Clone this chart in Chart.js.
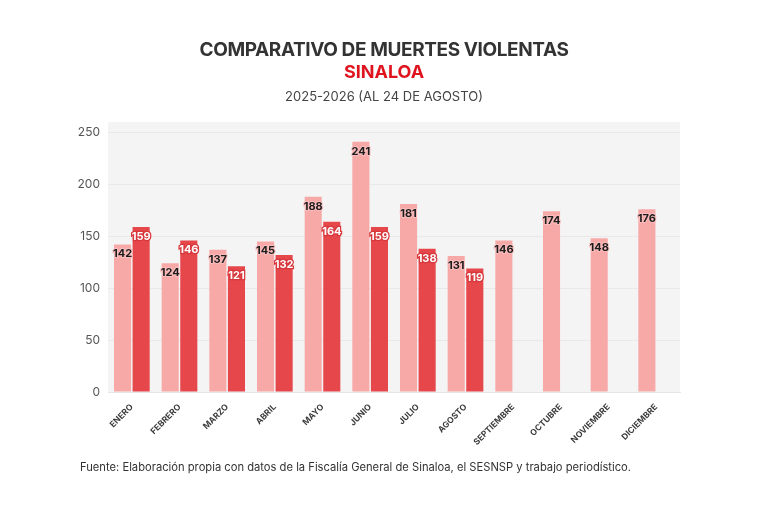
<!DOCTYPE html>
<html lang="es">
<head>
    <meta charset="UTF-8">
    <title>Comparativo de muertes violentas Sinaloa</title>
    <script src="https://cdn.jsdelivr.net/npm/chart.js"></script>
    <style>
        html, body { margin: 0; padding: 0; background: #fff; }
        #lienzo { position: relative; width: 768px; height: 512px; font-family: Inter, "Liberation Sans", sans-serif; }
        #lienzo canvas { position: absolute; left: 0; top: 0; }
        .titulo { position: absolute; left: 0; width: 768px; text-align: center; }
        #t1 { top: 38px; font-size: 19px; font-weight: 700; color: #333; letter-spacing: -0.4px; }
        #t2 { top: 61px; font-size: 18px; font-weight: 700; color: #e0141e; }
        #t3 { top: 88px; font-size: 13px; color: #444; }
        #fuente { position: absolute; left: 80px; top: 460px; font-size: 11.2px; color: #333; }
    </style>
</head>
<body>
    <div id="lienzo">
        <canvas id="grafico" width="768" height="512"></canvas>
        <div class="titulo" id="t1">COMPARATIVO DE MUERTES VIOLENTAS</div>
        <div class="titulo" id="t2">SINALOA</div>
        <div class="titulo" id="t3">2025-2026 (AL 24 DE AGOSTO)</div>
        <div id="fuente">Fuente: Elaboración propia con datos de la Fiscalía General de Sinaloa, el SESNSP y trabajo periodístico.</div>
    </div>

    <script>
        const meses = ['ENERO', 'FEBRERO', 'MARZO', 'ABRIL', 'MAYO', 'JUNIO', 'JULIO', 'AGOSTO',
                       'SEPTIEMBRE', 'OCTUBRE', 'NOVIEMBRE', 'DICIEMBRE'];
        const datos2025 = [142, 124, 137, 145, 188, 241, 181, 131, 146, 174, 148, 176];
        const datos2026 = [159, 146, 121, 132, 164, 159, 138, 119, null, null, null, null];
        const ticksY = [0, 50, 100, 150, 200, 250];

        // Fondo gris del área del gráfico
        const fondoArea = {
            id: 'fondoArea',
            beforeDraw(chart) {
                const { ctx, chartArea: a } = chart;
                ctx.save();
                ctx.fillStyle = '#f4f4f4';
                ctx.fillRect(a.left, a.top, a.right - a.left, a.bottom - a.top);
                ctx.restore();
            }
        };

        // Etiquetas de valor dentro de la parte superior de cada barra
        const etiquetas = {
            id: 'etiquetas',
            afterDatasetsDraw(chart) {
                const ctx = chart.ctx;
                ctx.save();
                ctx.font = 'bold 11px Inter, "Liberation Sans", sans-serif';
                ctx.textAlign = 'center';
                ctx.textBaseline = 'top';
                chart.data.datasets.forEach((ds, i) => {
                    chart.getDatasetMeta(i).data.forEach((bar, j) => {
                        const v = ds.data[j];
                        if (v === null || v === undefined) return;
                        const y = bar.y + 4;
                        if (i === 1) {
                            ctx.lineWidth = 2.5;
                            ctx.strokeStyle = '#d8383c';
                            ctx.strokeText(v, bar.x, y);
                            ctx.fillStyle = '#fff';
                        } else {
                            ctx.lineWidth = 2;
                            ctx.strokeStyle = 'rgba(250, 190, 190, 0.9)';
                            ctx.strokeText(v, bar.x, y);
                            ctx.fillStyle = '#1c1c1c';
                        }
                        ctx.fillText(v, bar.x, y);
                    });
                });
                ctx.restore();
            }
        };

        const ctx = document.getElementById('grafico').getContext('2d');
        new Chart(ctx, {
            type: 'bar',
            data: {
                labels: meses,
                datasets: [{
                    label: '2025',
                    data: datos2025,
                    backgroundColor: '#f7a9a8',
                    categoryPercentage: 0.78,
                    barPercentage: 0.92
                }, {
                    label: '2026',
                    data: datos2026,
                    backgroundColor: '#e5474a',
                    categoryPercentage: 0.78,
                    barPercentage: 0.92
                }]
            },
            options: {
                responsive: false,
                animation: false,
                layout: { padding: { left: 0, right: 88, top: 122, bottom: 60 } },
                plugins: {
                    legend: { display: false },
                    tooltip: { enabled: false }
                },
                scales: {
                    x: {
                        afterFit(scale) { scale.height = 60; },
                        grid: { display: false },
                        border: { color: '#e6e6e6' },
                        ticks: {
                            minRotation: 45,
                            maxRotation: 45,
                            color: '#3a3a3a',
                            padding: 2,
                            font: { size: 8.5, weight: 'bold', family: 'Inter, "Liberation Sans", sans-serif' }
                        }
                    },
                    y: {
                        min: 0,
                        max: 260,
                        afterFit(scale) { scale.width = 108; },
                        afterBuildTicks(scale) { scale.ticks = ticksY.map(v => ({ value: v })); },
                        grid: { color: '#e9e9e9', drawTicks: false },
                        border: { display: false },
                        ticks: {
                            color: '#555',
                            padding: 8,
                            font: { size: 12, family: 'Inter, "Liberation Sans", sans-serif' }
                        }
                    }
                }
            },
            plugins: [fondoArea, etiquetas]
        });
    </script>
</body>
</html>
